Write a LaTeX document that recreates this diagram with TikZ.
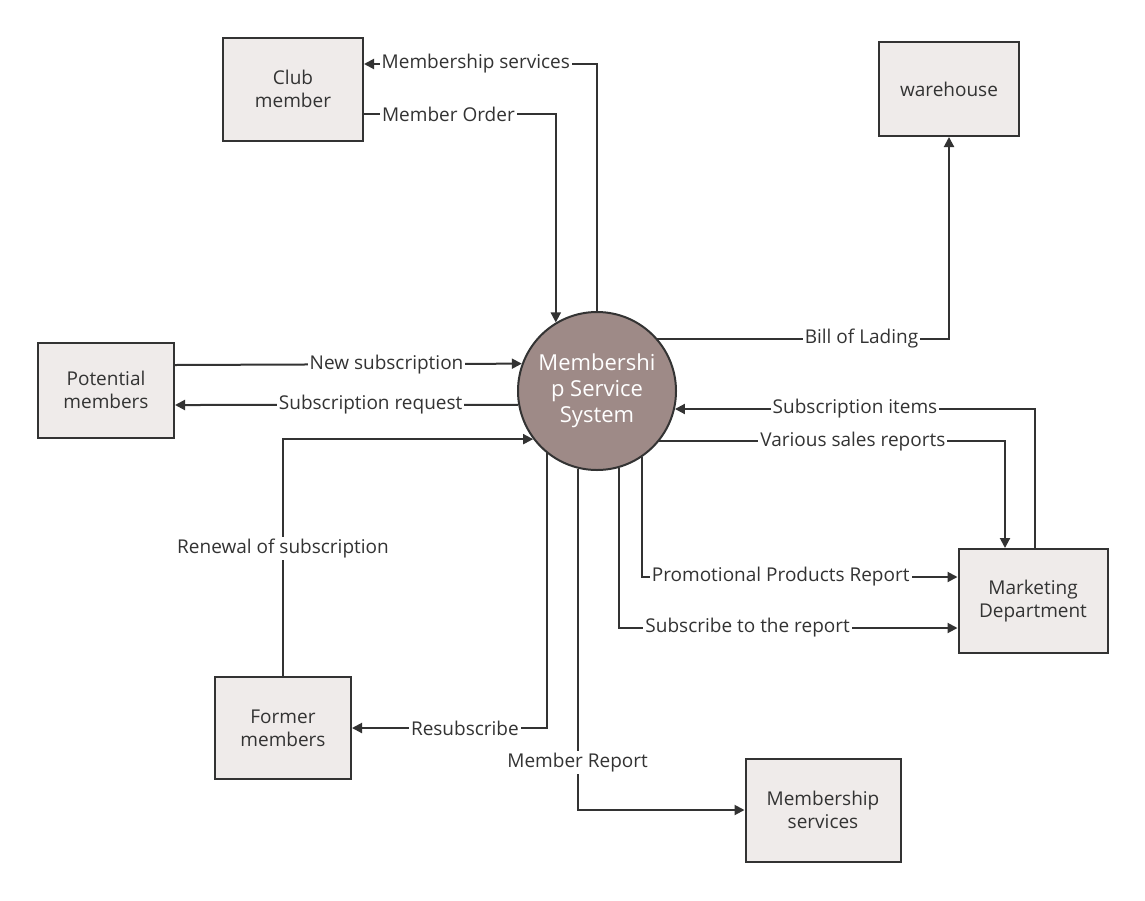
\documentclass[tikz,border=0pt]{standalone}
\usepackage{fontspec}
\setmainfont{Open Sans}
\usepackage{tikz}
\usetikzlibrary{positioning, arrows.meta, shapes}
\definecolor{boxfill}{RGB}{239,235,234}
\definecolor{boxline}{RGB}{51,51,51}
\definecolor{procfill}{RGB}{158,138,135}

\begin{document}
\begin{tikzpicture}[x=0.5pt, y=-0.5pt,
    block/.style={rectangle, draw=boxline, fill=boxfill, line width=1pt, align=center,
                  font=\fontsize{9.5}{11.5}\selectfont, text=boxline},
    process/.style={circle, draw=boxline, fill=procfill, line width=1pt, minimum size=79pt,
                  inner sep=0pt, align=center, text=white, font=\fontsize{11}{13}\selectfont},
    arrow/.style={-{Triangle[length=5pt, width=5pt]}, line width=1pt, boxline},
    flow/.style={fill=white, inner sep=1pt, font=\fontsize{9.5}{11}\selectfont, text=boxline}
]
    \useasboundingbox (0,0) rectangle (1145,900);

    % Entities
    \node[block, minimum width=70pt, minimum height=51.5pt] (club) at (293,89) {Club\\member};
    \node[block, minimum width=70pt, minimum height=47pt] (warehouse) at (949,89) {warehouse};
    \node[block, minimum width=68pt, minimum height=47.5pt] (potential) at (106,390) {Potential\\members};
    \node[block, minimum width=74.5pt, minimum height=52pt] (marketing) at (1033,601) {Marketing\\Department};
    \node[block, minimum width=68pt, minimum height=51pt] (former) at (283,728) {Former\\members};
    \node[block, minimum width=77.5pt, minimum height=51.5pt] (services) at (823,810) {Membership\\services};

    % Process
    \node[process] (system) at (597,391) {Membershi\\p Service\\System};

    % Data flows
    \draw[arrow] (system.90) |- ([yshift=12.5pt]club.east) node[flow, pos=0.76] {Membership services};
    \draw[arrow] ([yshift=-12.5pt]club.east) -| (system.121) node[flow, pos=0.22] {Member Order};
    \draw[arrow] (system.41) -| (warehouse.south) node[flow, pos=0.35] {Bill of Lading};
    \draw[arrow] ([yshift=12.5pt]potential.east) -- (system.160.8) node[flow, pos=0.61] {New subscription};
    \draw[arrow] (system.190) -- ([yshift=-7.5pt]potential.east) node[flow, pos=0.43] {Subscription request};
    \draw[arrow] (former.north) |- (system.217.4) node[flow, pos=0.27] {Renewal of subscription};
    \draw[arrow] (system.231.7) |- (former.east) node[flow, pos=0.71] {Resubscribe};
    \draw[arrow] (system.256.8) |- (services.west) node[flow, pos=0.43] {Member Report};
    \draw[arrow] (system.286.9) |- ([yshift=-13.5pt]marketing.west) node[flow, pos=0.69] {Subscribe to the report};
    \draw[arrow] (system.304.7) |- ([yshift=12pt]marketing.west) node[flow, pos=0.72] {Promotional Products Report};
    \draw[arrow] (system.321.7) -| ([xshift=-14pt]marketing.north) node[flow, pos=0.28] {Various sales reports};
    \draw[arrow] ([xshift=1pt]marketing.north) |- (system.347.5) node[flow, pos=0.75] {Subscription items};
\end{tikzpicture}
\end{document}
